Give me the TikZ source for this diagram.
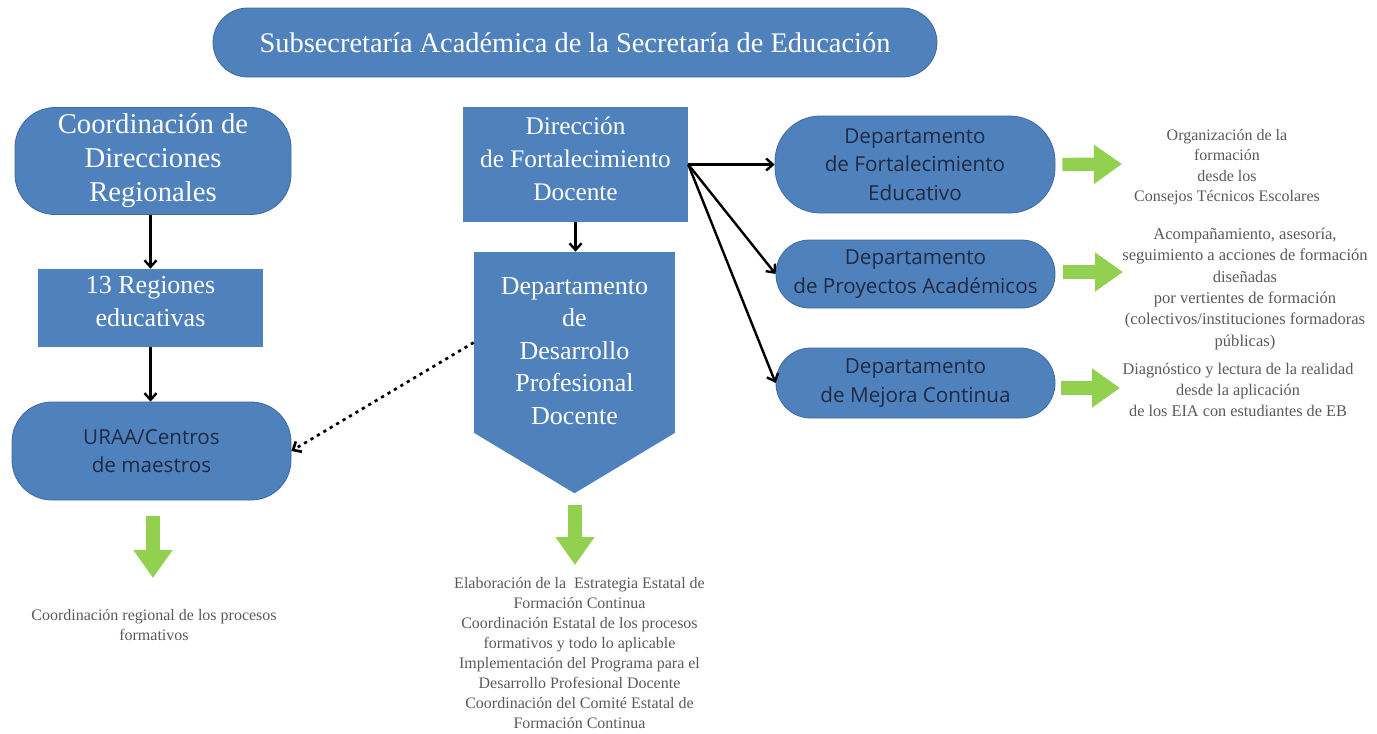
\documentclass[tikz,border=0pt]{standalone}
\usepackage{fontspec}
\setmainfont{Liberation Serif}
\newfontfamily\opensans{Open Sans}
\usetikzlibrary{arrows.meta}
\usetikzlibrary{calc}

\definecolor{boxblue}{RGB}{79,129,189}
\definecolor{boxline}{RGB}{62,106,160}
\definecolor{arrowgreen}{RGB}{146,208,80}
\definecolor{notegray}{RGB}{89,89,89}
\definecolor{navytext}{RGB}{31,42,68}

\tikzset{
  pill/.style={draw=boxline, line width=0.6pt, fill=boxblue, rounded corners=#1, align=center, inner sep=0pt},
  pill/.default=30pt,
  block/.style={fill=boxblue, align=center, inner sep=0pt},
  whitetext/.style={text=white, font=\fontsize{19}{24.5}\selectfont},
  navytxt/.style={text=navytext, font=\opensans\fontsize{15.5}{21.5}\selectfont},
  note/.style={text=notegray, align=center, font=\fontsize{12}{15.3}\selectfont},
  link/.style={-{Straight Barb[length=5pt,width=9pt]}, line width=1.8pt},
  dotlink/.style={link, line width=2pt, dash pattern={on 2.4pt off 3.2pt}},
  greenlink/.style={draw=arrowgreen, line width=10pt, -{Triangle[length=21pt,width=28pt]}},
}

\begin{document}
\begin{tikzpicture}[x=0.75pt,y=0.75pt,yscale=-1,xscale=1]
\useasboundingbox (0,0) rectangle (1377,733);

%Title pill
\node [pill=26pt, whitetext, font=\fontsize{21.3}{25}\selectfont, minimum width=543pt, minimum height=51.75pt] (subsec) at (575,42.5) {Subsecretaría Académica de la Secretaría de Educación};

%Left column
\node [pill, whitetext, font=\fontsize{21.5}{25.5}\selectfont, minimum width=207pt, minimum height=80.25pt] (coord) at (153,161) {Coordinación de\\Direcciones\\Regionales};
\node [block, whitetext, font=\fontsize{19.5}{24.5}\selectfont, text depth=10pt, minimum width=168.75pt, minimum height=58.5pt] (reg) at (150.5,308) {13 Regiones\\educativas};
\node [pill, navytxt, minimum width=209.25pt, minimum height=73.5pt] (uraa) at (151.5,451) {URAA/Centros\\de maestros};

%Center column
\node [block, whitetext, font=\fontsize{19}{24.75}\selectfont, text depth=9pt, minimum width=168.75pt, minimum height=86.25pt] (dir) at (575.5,164.5) {Dirección\\de Fortalecimiento\\Docente};
\node [block, whitetext, font=\fontsize{19.5}{24.4}\selectfont, text height=123pt, minimum width=150.75pt, minimum height=135.75pt] (ddpd) at (574.5,342.5) {Departamento\\de\\Desarrollo\\Profesional\\Docente};
%Pentagon point
\fill [boxblue] ($(ddpd.south west)+(0,-0.6)$) -- ($(ddpd.south east)+(0,-0.6)$) -- ($(ddpd.south)+(0,60)$) -- cycle;

%Right column
\node [pill=34pt, navytxt, minimum width=210pt, minimum height=72.75pt] (dfe) at (915,164.5) {Departamento\\de Fortalecimiento\\Educativo};
\node [pill=25pt, navytxt, minimum width=209.25pt, minimum height=51pt] (dpa) at (915.5,274) {Departamento\\de Proyectos Académicos};
\node [pill=26pt, navytxt, minimum width=209.25pt, minimum height=52.5pt] (dmc) at (915.5,383) {Departamento\\de Mejora Continua};

% Text Node
\node [note] (noteL) at (154,625) {Coordinación regional de los procesos\\formativos};
% Text Node
\node [note, font=\fontsize{12}{15.1}\selectfont] (noteC) at (579.5,653) {Elaboración de la~ Estrategia Estatal de\\Formación Continua\\Coordinación Estatal de los procesos\\formativos y todo lo aplicable\\Implementación del Programa para el\\Desarrollo Profesional Docente\\Coordinación del Comité Estatal de\\Formación Continua};
% Text Node
\node [note] (noteA) at (1227,167) {Organización de la\\formación\\desde los\\Consejos Técnicos Escolares};
% Text Node
\node [note, font=\fontsize{12.4}{16}\selectfont] (noteB) at (1245,289) {Acompañamiento, asesoría,\\seguimiento a acciones de formación\\diseñadas\\por vertientes de formación\\(colectivos/instituciones formadoras\\públicas)};
% Text Node
\node [note, font=\fontsize{12.2}{16}\selectfont] (noteD) at (1238,390) {Diagnóstico y lectura de la realidad\\desde la aplicación\\de los EIA con estudiantes de EB};

%Black connectors
\draw [link] (reg.north |- coord.south) -- (reg.north);
\draw [link] (reg.south) -- (reg.south |- uraa.north);
\draw [link] (dir.south) -- (dir.south |- ddpd.north);
\draw [link] (dir.east) -- (dfe.west);
\draw [link] (dir.east) -- (dpa.west);
\draw [link] (dir.east) -- (dmc.west);
\draw [dotlink] (ddpd.west) -- (uraa.east);

%Green arrows
\coordinate (tipL) at (153,578);
\coordinate (tipC) at (575,565);
\coordinate (tipA) at (1122,164);
\coordinate (tipB) at (1123,272);
\coordinate (tipD) at (1120,388);
\draw [greenlink] ($(uraa.south)+(1.5,16)$) -- (tipL);
\draw [greenlink] ($(ddpd.south)+(0.5,72)$) -- (tipC);
\draw [greenlink] ($(dfe.east)+(7,0)$) -- (tipA);
\draw [greenlink] ($(dpa.east)+(8,-2)$) -- (tipB);
\draw [greenlink] ($(dmc.east)+(6,5)$) -- (tipD);

\end{tikzpicture}
\end{document}
